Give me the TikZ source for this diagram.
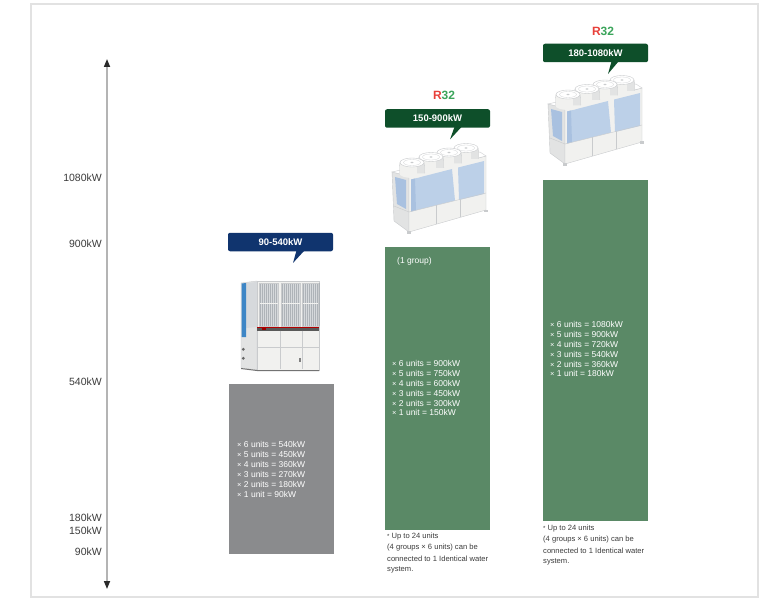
\documentclass[tikz,border=0pt]{standalone}
\usepackage{fontspec}
\setmainfont{Liberation Sans}
\usetikzlibrary{arrows.meta,calc}
\definecolor{framegray}{HTML}{E2E2E2}
\definecolor{axisgray}{HTML}{B4B4B4}
\definecolor{tipgray}{HTML}{2A2A2A}
\definecolor{labelgray}{HTML}{3C3C3C}
\definecolor{bargray}{HTML}{8A8B8D}
\definecolor{bargreen}{HTML}{5A8966}
\definecolor{navy}{HTML}{10346E}
\definecolor{dkgreen}{HTML}{0E4F2A}
\definecolor{rred}{HTML}{E8403A}
\definecolor{rgreen}{HTML}{3BA55B}
\definecolor{coil}{HTML}{BCD0E8}
\definecolor{coildark}{HTML}{A9C1E0}
\definecolor{edgec}{HTML}{C9CBCD}
\definecolor{unitwhite}{HTML}{F1F1EF}
\definecolor{sidegray}{HTML}{E2E3E3}
\definecolor{grille}{HTML}{D6D9DC}
\definecolor{gridline}{HTML}{AEB3B8}
\definecolor{blueside}{HTML}{3D86C6}
\tikzset{
  axlabel/.style={anchor=east,inner sep=0pt,text=labelgray,font=\fontsize{10.5}{12}\selectfont},
  bartext/.style={anchor=west,inner sep=0pt,text=white,font=\fontsize{8.5}{10}\selectfont},
  notetext/.style={anchor=west,inner sep=0pt,text=labelgray,font=\fontsize{7.6}{11}\selectfont},
  barbox/.style={anchor=north west,inner sep=0pt,minimum width=105pt,draw=none},
  badge/.style={rounded corners=2pt,inner sep=0pt,minimum width=105pt,minimum height=18.5pt,text=white,font=\bfseries\fontsize{9.5}{11}\selectfont},
  r32/.style={inner sep=0pt,font=\bfseries\fontsize{12}{14}\selectfont},
  edgeline/.style={draw=edgec,line width=0.4pt},
  modunit/.pic={
    % side face
    \fill[sidegray,edgeline] (0,26) -- (17,30) -- (17,86) -- (2,75) -- cycle;
    \fill[coildark] (3,31) -- (14,34) -- (14,63) -- (5,58) -- cycle;
    % front face
    \fill[unitwhite,edgeline] (17,30) -- (94,10) -- (94,64) -- (17,86) -- cycle;
    % coil panels
    \fill[coil] (19,33.5) -- (60,23) -- (63,54.5) -- (19,65.5) -- cycle;
    \fill[coil] (66,21.5) -- (92,15) -- (92,48) -- (67,54) -- cycle;
    \fill[coildark] (19,33.5) -- (23,32.5) -- (24,64.3) -- (19,65.5) -- cycle;
    % base band
    \draw[edgeline] (17,66) -- (94,47);
    \draw[edgeline] (44,59.3) -- (44,78.3);
    \draw[edgeline] (68,53.4) -- (68,71.4);
    \draw[edgeline] (2,60) -- (17,66);
    % feet
    \fill[edgec] (92,63.5) rectangle (96,66);
    \fill[edgec] (15,85) rectangle (19,88);
    % top rim
    \fill[white,edgeline] (0,26) -- (17,30) -- (94,10) -- (88,6) -- cycle;
    % fans (back to front)
    \foreach \cx/\cy in {74/2,57/6.5,39/11,20/16.5} {
      \fill[unitwhite] (\cx,\cy+11) ellipse [x radius=12.5pt,y radius=4.5pt];
      \fill[unitwhite] (\cx-12.5,\cy+4) -- (\cx-12,\cy) -- (\cx+12,\cy) -- (\cx+12.5,\cy+4) -- (\cx+12.5,\cy+11) -- (\cx-12.5,\cy+11) -- cycle;
      \fill[sidegray] (\cx+5,\cy) -- (\cx+12,\cy) -- (\cx+12.5,\cy+4) -- (\cx+12.5,\cy+11) -- (\cx+5,\cy+11) -- cycle;
      \draw[edgeline] (\cx-12,\cy) -- (\cx-12.5,\cy+4) -- (\cx-12.5,\cy+11);
      \draw[edgeline] (\cx+12,\cy) -- (\cx+12.5,\cy+4) -- (\cx+12.5,\cy+11);
      \filldraw[fill=white,draw=edgec,line width=0.4pt] (\cx,\cy) ellipse [x radius=12pt,y radius=4.5pt];
      \draw[edgec!80,line width=0.3pt] (\cx,\cy) ellipse [x radius=8.5pt,y radius=3pt];
      \fill[edgec] (\cx,\cy) ellipse [x radius=1.6pt,y radius=0.8pt];
    }
  }
}
\begin{document}
\begin{tikzpicture}[x=1pt,y=-1pt]
\useasboundingbox (0,0) rectangle (770,604);
\fill[white] (0,0) rectangle (770,604);
% frame
\draw[framegray,line width=1.4pt] (31,4) rectangle (758,597);

% axis
\coordinate (atop) at (107,59);
\coordinate (abot) at (107,589);
\draw[axisgray,line width=1.6pt,{Triangle[length=8pt,width=6pt,color=tipgray]}-{Triangle[length=8pt,width=6pt,color=tipgray]}] (abot) -- (atop);
\node[axlabel] (l1080) at (102,178) {1080kW};
\node[axlabel] (l900) at (102,244) {900kW};
\node[axlabel] (l540) at (102,381.5) {540kW};
\node[axlabel] (l180) at (102,517.5) {180kW};
\node[axlabel] (l150) at (102,530.5) {150kW};
\node[axlabel] (l90) at (102,551.5) {90kW};

% bars
\node[barbox,fill=bargray,minimum height=170pt] (bar1) at (229,384) {};
\node[barbox,fill=bargreen,minimum height=283pt] (bar2) at (385,247) {};
\node[barbox,fill=bargreen,minimum height=341pt] (bar3) at (543,180) {};

% bar texts
\foreach \t [count=\i] in {6 units = 540kW,5 units = 450kW,4 units = 360kW,3 units = 270kW,2 units = 180kW,1 unit = 90kW}
  \node[bartext] (ga\i) at (237,434+10*\i) {{\fontsize{7.5}{10}\selectfont ×} \t};
\node[bartext] (gp) at (397,261) {(1 group)};
\foreach \t [count=\i] in {6 units = 900kW,5 units = 750kW,4 units = 600kW,3 units = 450kW,2 units = 300kW,1 unit = 150kW}
  \node[bartext] (gb\i) at (392,354+9.8*\i) {{\fontsize{7.5}{10}\selectfont ×} \t};
\foreach \t [count=\i] in {6 units = 1080kW,5 units = 900kW,4 units = 720kW,3 units = 540kW,2 units = 360kW,1 unit = 180kW}
  \node[bartext] (gc\i) at (550,315+9.8*\i) {{\fontsize{7.5}{10}\selectfont ×} \t};

% footnotes
\node[notetext] (na1) at (387,537) {{\fontsize{6}{8}\selectfont *} Up to 24 units};
\node[notetext] (na2) at (387,548) {(4 groups × 6 units) can be};
\node[notetext] (na3) at (387,559) {connected to 1 Identical water};
\node[notetext] (na4) at (387,570) {system.};
\node[notetext] (nb1) at (543,529) {{\fontsize{6}{8}\selectfont *} Up to 24 units};
\node[notetext] (nb2) at (543,540) {(4 groups × 6 units) can be};
\node[notetext] (nb3) at (543,551) {connected to 1 Identical water};
\node[notetext] (nb4) at (543,562) {system.};

% badges
\node[badge,fill=navy] (b1) at (280.5,242) {90-540kW};
\fill[navy] ($(b1.south)+(16,-1)$) -- ($(b1.south)+(24,-1)$) -- ($(b1.south)+(12.5,11.5)$) -- cycle;
\node[badge,fill=dkgreen] (b2) at (437.5,118.5) {150-900kW};
\fill[dkgreen] ($(b2.south)+(17,-1)$) -- ($(b2.south)+(24,-1)$) -- ($(b2.south)+(12.5,11.5)$) -- cycle;
\node[badge,fill=dkgreen] (b3) at (595.5,53) {180-1080kW};
\fill[dkgreen] ($(b3.south)+(16,-1)$) -- ($(b3.south)+(23,-1)$) -- ($(b3.south)+(12.5,11.5)$) -- cycle;

% R32 logos
\node[r32] (r1) at (444,95) {\textcolor{rred}{R}\textcolor{rgreen}{32}};
\node[r32] (r2) at (603,31) {\textcolor{rred}{R}\textcolor{rgreen}{32}};

% modular units
\pic at (392,146) {modunit};
\pic at (548,78) {modunit};

% unit 1 (cabinet chiller)
\fill[sidegray,edgeline] (241,283) -- (257,281) -- (257,370) -- (241,368) -- cycle;
\fill[grille] (246,283) -- (257,282) -- (257,327) -- (246,328) -- cycle;
\fill[blueside] (241.5,283.5) -- (246,283) -- (246,337) -- (241.5,337) -- cycle;
\fill[unitwhite,edgeline] (257,281) rectangle (319,370);
\foreach \a/\b in {259/278,281/300,302/318} {
  \fill[grille] (\a,283) rectangle (\b,326);
  \foreach \i in {1,...,9} \draw[gridline,line width=0.35pt] (\a+2*\i-0.5,283) -- (\a+2*\i-0.5,326);
  \draw[unitwhite,line width=1.2pt] (\a,303.5) -- (\b,303.5);
  \draw[edgeline] (\a,283) rectangle (\b,326);
}
\fill[black!65] (257,326.5) rectangle (319,330.5);
\draw[red!70!black,line width=0.5pt] (257,327.5) -- (319,327.5);
\fill[red!60!black] (262,327.5) rectangle (266,330);
\draw[edgeline] (280,330.5) -- (280,369);
\draw[edgeline] (302,330.5) -- (302,369);
\draw[edgeline] (257,347) -- (319,347);
\fill[black!60] (243.3,349.3) circle [radius=1.6pt];
\fill[black!60] (243.3,358.3) circle [radius=1.6pt];
\fill[black!50] (299,358) rectangle (301,362);
\fill[black!55] (241,368) -- (257,370) -- (319,370) -- (319,371) -- (257,371) -- (241,369) -- cycle;
\end{tikzpicture}
\end{document}
